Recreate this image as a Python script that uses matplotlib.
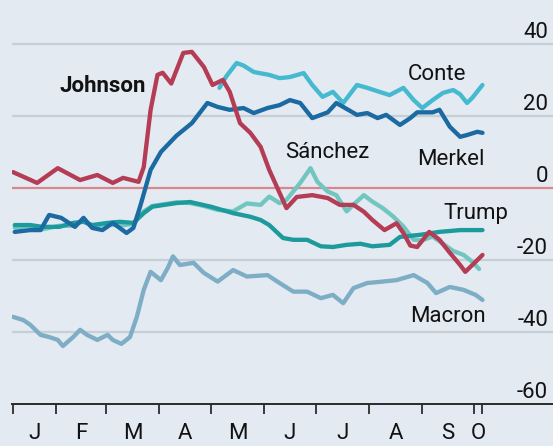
import matplotlib
matplotlib.use("Agg")
import matplotlib.pyplot as plt
import matplotlib.transforms as mtransforms

# ---- data (day of year 2020, approval value) ----
johnson_days = [6, 20, 32, 45, 55, 64, 70, 79, 82, 86, 90, 93, 98, 105, 110, 117, 122, 128, 132,
                138, 144, 150, 155, 165, 171, 180, 189, 196, 204, 210, 215, 222, 229, 233, 237,
                241, 248, 254, 260, 266, 269, 275, 279]
johnson_vals = [4.4, 1.4, 5.5, 2.2, 3.6, 1.4, 2.8, 1.7, 5.8, 21.7, 31.4, 32.0, 29.0, 37.5, 37.8,
                33.6, 28.6, 30.0, 26.7, 18.0, 15.3, 11.4, 5.0, -5.6, -2.5, -2.0, -2.8, -4.7, -4.7,
                -6.6, -8.9, -11.7, -9.8, -12.5, -16.0, -16.4, -12.2, -14.4, -18.0, -21.4, -23.3,
                -20.5, -18.6]

merkel_days = [7, 16, 22, 27, 34, 42, 47, 52, 58, 64, 72, 76, 80, 83, 86, 92, 101, 110, 119, 125,
               132, 140, 146, 154, 161, 167, 173, 180, 189, 194, 198, 206, 212, 218, 223, 231,
               237, 241, 250, 254, 260, 266, 270, 276, 279]
merkel_vals = [-12.2, -11.7, -11.7, -7.5, -8.3, -10.8, -8.3, -11.1, -11.7, -9.7, -12.5, -11.1,
               -5.0, 0.0, 5.0, 10.0, 14.5, 18.0, 23.6, 22.5, 21.7, 22.2, 20.8, 22.2, 23.0, 24.4,
               23.6, 19.4, 21.0, 23.6, 22.5, 20.3, 20.8, 19.4, 20.3, 17.5, 19.4, 21.0, 21.0, 21.7,
               17.0, 14.2, 14.7, 15.6, 15.3]

conte_days = [126, 130, 136, 140, 146, 155, 161, 167, 175, 180, 186, 192, 198, 206, 212, 219,
              225, 233, 239, 244, 250, 256, 262, 266, 270, 273, 279]
conte_vals = [27.8, 31.0, 34.7, 34.0, 32.2, 31.4, 30.5, 30.8, 31.9, 28.6, 25.3, 26.7, 23.6, 28.6,
              27.8, 26.7, 25.8, 27.8, 24.4, 22.2, 24.4, 26.4, 27.2, 26.0, 23.6, 25.0, 28.6]

trump_days = [7, 16, 23, 33, 41, 47, 52, 61, 68, 76, 82, 87, 94, 101, 109, 121, 134, 144, 150,
              155, 163, 169, 177, 185, 192, 200, 208, 215, 225, 231, 243, 254, 266, 279]
trump_vals = [-10.3, -10.3, -10.8, -10.8, -9.7, -9.4, -10.3, -9.7, -9.4, -9.7, -7.0, -5.2, -4.7,
              -4.2, -3.9, -5.2, -7.0, -8.0, -8.9, -10.3, -13.9, -14.4, -14.4, -16.2, -16.4, -15.8,
              -15.5, -16.2, -15.8, -13.6, -13.0, -12.2, -11.7, -11.7]

sanchez_days = [7, 16, 23, 33, 41, 47, 52, 61, 68, 76, 82, 87, 94, 101, 109, 117, 125, 134, 142,
                150, 155, 161, 165, 173, 179, 183, 189, 194, 200, 204, 210, 215, 221, 227, 233,
                239, 244, 250, 256, 262, 268, 273, 277]
sanchez_vals = [-11.0, -10.5, -11.5, -10.5, -10.5, -9.0, -10.8, -10.0, -10.5, -10.0, -6.5, -5.0,
                -4.5, -4.0, -4.2, -5.0, -6.1, -6.5, -4.3, -4.7, -2.4, -4.2, -3.3, 1.4, 5.5, 1.7,
                -1.0, -2.0, -6.5, -4.6, -2.0, -3.8, -5.6, -7.9, -10.7, -14.4, -14.5, -13.5, -15.5,
                -17.5, -18.6, -20.5, -22.5]

macron_days = [6, 12, 16, 22, 27, 32, 35, 41, 45, 49, 55, 61, 64, 69, 74, 78, 82, 86, 92, 96, 99,
               103, 111, 117, 125, 134, 142, 154, 161, 169, 177, 185, 192, 198, 204, 212, 221,
               229, 239, 247, 252, 260, 268, 275, 279]
macron_vals = [-35.8, -36.7, -38.0, -40.8, -41.4, -42.2, -43.9, -41.4, -39.4, -40.8, -42.2, -40.8,
               -42.2, -43.3, -41.4, -35.8, -28.3, -23.3, -25.6, -22.2, -19.0, -21.4, -20.8, -23.6,
               -26.0, -22.8, -24.6, -24.2, -26.4, -28.8, -28.8, -30.6, -29.7, -32.0, -27.8, -26.4,
               -26.0, -25.6, -24.2, -26.4, -29.2, -27.5, -28.3, -29.7, -31.1]

month_ticks = [6, 31, 60, 91, 121, 152, 182, 213, 244, 274, 279]
month_labels = ["J", "F", "M", "A", "M", "J", "J", "A", "S", "O"]
y_ticks = [-60, -40, -20, 0, 20, 40]

# ---- style ----
BG = "#e3eaf1"
plt.rcParams["font.family"] = ["Roboto", "DejaVu Sans"]
fig = plt.figure(figsize=(5.53, 4.46), dpi=100)
fig.patch.set_facecolor(BG)
ax = fig.add_axes([12 / 553, 42 / 446, 541 / 553, 404 / 446])
ax.set_facecolor(BG)
ax.set_xlim(5.4, 320)
ax.set_ylim(-60, 52.2)

for s in ["top", "left", "right"]:
    ax.spines[s].set_visible(False)
ax.spines["bottom"].set_color("#2a2a2a")
ax.spines["bottom"].set_linewidth(1.4)

# grid lines
for v in [-40, -20, 20, 40]:
    ax.axhline(v, color="#c6ced6", lw=1.6, zorder=1)
ax.axhline(0, color="#d9868c", lw=1.6, zorder=1)

lw = 3.1
kw = dict(lw=lw, solid_capstyle="round", solid_joinstyle="round")
ax.plot(macron_days, macron_vals, color="#7eadc6", zorder=2, **kw)
ax.plot(sanchez_days, sanchez_vals, color="#72c6c0", zorder=3, **kw)
ax.plot(trump_days, trump_vals, color="#1d9a9c", zorder=4, **kw)
ax.plot(conte_days, conte_vals, color="#45b9d0", zorder=5, **kw)
ax.plot(merkel_days, merkel_vals, color="#1b6aa2", zorder=6, **kw)
ax.plot(johnson_days, johnson_vals, color="#b53c55", zorder=7, **kw)

# x ticks
ax.set_xticks(month_ticks)
ax.set_xticklabels([])
ax.tick_params(axis="x", which="major", direction="out", length=7, width=1.4, color="#3a3a3a")
mids = [(month_ticks[i] + month_ticks[i + 1]) / 2 for i in range(len(month_labels))]
ax.set_xticks(mids, minor=True)
ax.set_xticklabels(month_labels, minor=True, fontsize=16, color="#121212")
ax.tick_params(axis="x", which="minor", length=0, pad=14)

# y ticks on right, inside, above gridlines
ax.yaxis.tick_right()
ax.set_yticks(y_ticks)
ax.set_yticklabels([str(v) for v in y_ticks], fontsize=16, color="#121212")
ax.tick_params(axis="y", length=0, pad=0)
off = mtransforms.ScaledTranslation(-5 / 100, 6 / 100, fig.dpi_scale_trans)
for lab in ax.get_yticklabels():
    lab.set_horizontalalignment("right")
    lab.set_verticalalignment("baseline")
    lab.set_transform(lab.get_transform() + off)

# series labels
def px2data(x, y):
    return ax.transData.inverted().transform(fig.transFigure.transform((x / 553, 1 - y / 446)))

fig.canvas.draw()
for txt, (px, py), bold in [("Johnson", (60, 92), True), ("Conte", (408, 80), False),
                            ("Sánchez", (285, 158), False), ("Merkel", (417, 165), False),
                            ("Trump", (443, 219), False), ("Macron", (410, 322), False)]:
    dx, dy = px2data(px, py)
    ax.text(dx, dy, txt, fontsize=16, color="#121212", ha="left", va="baseline",
            fontweight="bold" if bold else "normal", zorder=10)

fig.savefig("out.png", dpi=100, facecolor=BG)
